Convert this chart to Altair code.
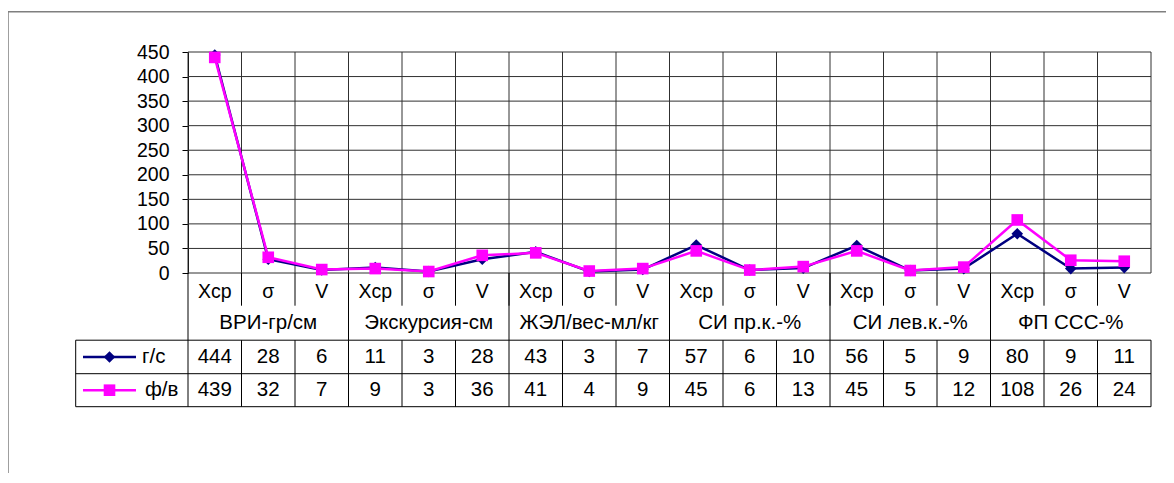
import altair as alt
import pandas as pd

# ---- data ----
cats = ["Хср", "σ", "V"] * 6
groups = ["ВРИ-гр/см", "Экскурсия-см", "ЖЭЛ/вес-мл/кг", "СИ пр.к.-%", "СИ лев.к.-%", "ФП ССС-%"]
gs = [444, 28, 6, 11, 3, 28, 43, 3, 7, 57, 6, 10, 56, 5, 9, 80, 9, 11]
fv = [439, 32, 7, 9, 3, 36, 41, 4, 9, 45, 6, 13, 45, 5, 12, 108, 26, 24]
series_names = ["г/с", "ф/в"]
series_colors = ["#000080", "#FF00FF"]
series_shapes = ["diamond", "square"]
y_ticks = list(range(0, 451, 50))

N = len(cats)
W, H = 963, 221
FONT = "Liberation Sans"
FS = 19.5
FS_T = 20.5
GRID = "#303030"

df = pd.DataFrame({"pos": [i + 0.5 for i in range(N)], "cat": cats, "gs": gs, "fv": fv})
long = pd.concat([
    pd.DataFrame({"pos": df["pos"], "series": series_names[0], "value": gs}),
    pd.DataFrame({"pos": df["pos"], "series": series_names[1], "value": fv}),
])
grp_df = pd.DataFrame({"gpos": [3 * g + 1.5 for g in range(len(groups))], "grp": groups})
bounds = pd.DataFrame({"b": list(range(N + 1))})
cat_sep = pd.DataFrame({"b": list(range(1, N))})
grp_sep = pd.DataFrame({"b": list(range(3, N, 3))})
ytick_df = pd.DataFrame({"value": y_ticks})

xs = alt.Scale(domain=[0, N], nice=False, zero=False)
X = lambda f: alt.X(f, scale=xs, axis=None)
ys = alt.Scale(domain=[0, 450], nice=False, zero=True)

# table layout (pixels relative to plot area)
Y_CAT = 239.7
Y_GRP = 271.4
Y_CAT_SEP = 253.7
R1, R2, R3 = 288.2, 321.7, 354.7
ROW_Y = [305.0, 338.2]
TL = -112.3

color = alt.Color("series:N", scale=alt.Scale(domain=series_names, range=series_colors), legend=None)
shape = alt.Shape("series:N", scale=alt.Scale(domain=series_names, range=series_shapes), legend=None)

yaxis = alt.Axis(values=y_ticks, grid=False, labelOverlap=False, labelFlush=False,
                 tickSize=6, tickColor="black", domain=True, domainColor="black",
                 labelFont=FONT, labelFontSize=FS, labelColor="black",
                 labelPadding=13, title=None)
yenc = alt.Y("value:Q", scale=ys, axis=yaxis)

hgrid = alt.Chart(ytick_df).mark_rule(color=GRID, strokeWidth=1).encode(
    y=yenc, x=alt.value(0), x2=alt.value(W))
vgrid = alt.Chart(bounds).mark_rule(color=GRID, strokeWidth=1).encode(
    x=X("b:Q"), y=alt.value(0), y2=alt.value(H))

lines = alt.Chart(long).mark_line(strokeWidth=2.5).encode(x=X("pos:Q"), y=yenc, color=color)
points = alt.Chart(long).mark_point(filled=True, size=135, opacity=1).encode(
    x=X("pos:Q"), y=yenc, color=color, shape=shape)

cat_text = alt.Chart(df).mark_text(font=FONT, fontSize=FS, color="black", baseline="middle").encode(
    x=X("pos:Q"), y=alt.value(Y_CAT), text="cat:N")
grp_text = alt.Chart(grp_df).mark_text(font=FONT, fontSize=FS_T, color="black", baseline="middle").encode(
    x=X("gpos:Q"), y=alt.value(Y_GRP), text="grp:N")
gs_text = alt.Chart(df).mark_text(font=FONT, fontSize=FS_T, color="black", baseline="middle").encode(
    x=X("pos:Q"), y=alt.value(ROW_Y[0]), text="gs:Q")
fv_text = alt.Chart(df).mark_text(font=FONT, fontSize=FS_T, color="black", baseline="middle").encode(
    x=X("pos:Q"), y=alt.value(ROW_Y[1]), text="fv:Q")

cat_rules = alt.Chart(cat_sep).mark_rule(color="black", strokeWidth=1).encode(
    x=X("b:Q"), y=alt.value(H), y2=alt.value(Y_CAT_SEP))
grp_rules = alt.Chart(grp_sep).mark_rule(color="black", strokeWidth=1).encode(
    x=X("b:Q"), y=alt.value(H), y2=alt.value(R1))
data_rules = alt.Chart(bounds).mark_rule(color="black", strokeWidth=1).encode(
    x=X("b:Q"), y=alt.value(R1), y2=alt.value(R3))
axis_ext = alt.Chart(pd.DataFrame({"b": [0]})).mark_rule(color="black", strokeWidth=1).encode(
    x=X("b:Q"), y=alt.value(H), y2=alt.value(R1))

def hline(yv, x0=TL, x1=W, color="black", sw=1):
    return alt.Chart(pd.DataFrame({"k": [0]})).mark_rule(color=color, strokeWidth=sw).encode(
        x=alt.value(x0), x2=alt.value(x1), y=alt.value(yv))

def vline(xv, y0, y1, color="black", sw=1):
    return alt.Chart(pd.DataFrame({"k": [0]})).mark_rule(color=color, strokeWidth=sw).encode(
        x=alt.value(xv), y=alt.value(y0), y2=alt.value(y1))

table_lines = [hline(R1), hline(R2), hline(R3), vline(TL, R1, R3)]
border = [hline(-40.3, -180, W + 20, color="#7f7f7f", sw=1.5), vline(-180, -40.3, 430, color="#7f7f7f", sw=1.5)]

legend_layers = []
for k, name in enumerate(series_names):
    ld = pd.DataFrame({"series": [name]})
    legend_layers.append(alt.Chart(ld).mark_rule(strokeWidth=2.5).encode(
        x=alt.value(-105), x2=alt.value(-52), y=alt.value(ROW_Y[k]), color=color))
    legend_layers.append(alt.Chart(ld).mark_point(filled=True, size=135, opacity=1).encode(
        x=alt.value(-78.5), y=alt.value(ROW_Y[k]), color=color, shape=shape))
    legend_layers.append(alt.Chart(ld).mark_text(font=FONT, fontSize=FS_T, color="black",
                                                 baseline="middle", align="left").encode(
        x=alt.value(-46 if k == 0 else -43), y=alt.value(ROW_Y[k]), text="series:N"))

chart = alt.layer(
    hgrid, vgrid, lines, points,
    cat_rules, grp_rules, data_rules, axis_ext, *table_lines,
    cat_text, grp_text, gs_text, fv_text,
    *legend_layers, *border,
).properties(
    width=W, height=H,
    autosize=alt.AutoSizeParams(type="none"),
    padding={"left": 180, "top": 44, "right": 15, "bottom": 200},
    background="white",
).configure_view(stroke=None)

chart.save("out.html", embed_options={"renderer": "svg", "actions": False})
